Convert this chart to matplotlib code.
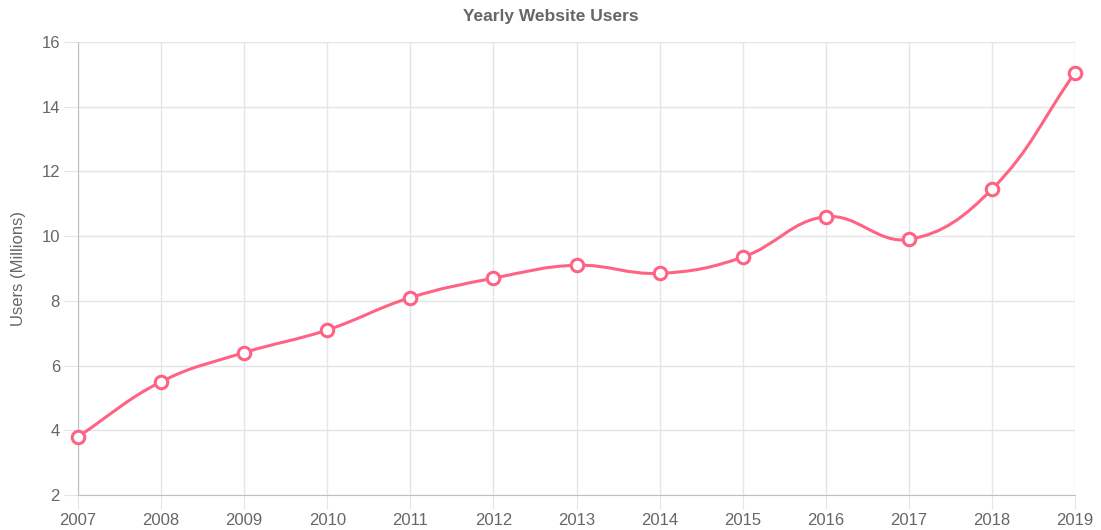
import numpy as np
import matplotlib
matplotlib.use("Agg")
import matplotlib.pyplot as plt
from matplotlib.path import Path
from matplotlib.patches import PathPatch

years = [2007, 2008, 2009, 2010, 2011, 2012, 2013, 2014, 2015, 2016, 2017, 2018, 2019]
users = [3.8, 5.5, 6.4, 7.1, 8.1, 8.7, 9.1, 8.85, 9.35, 10.6, 9.9, 11.45, 15.05]
y_ticks = [2, 4, 6, 8, 10, 12, 14, 16]

LINE = "#ff6384"
TEXT = "#666666"
FONT = ["Liberation Sans", "DejaVu Sans"]

W, H = 1101, 530
fig = plt.figure(figsize=(W / 100, H / 100), dpi=100)
left, right, top, bottom = 78, 1075, 42, 495
ax = fig.add_axes([left / W, 1 - bottom / H, (right - left) / W, (bottom - top) / H])
ax.set_xlim(years[0], years[-1])
ax.set_ylim(2, 16)

# Chart.js-like spline (tension 0.4) computed in display space
fig.canvas.draw()
pts = ax.transData.transform(np.column_stack([years, users]))
n = len(pts)
t = 0.4
cprev = np.zeros_like(pts)
cnext = np.zeros_like(pts)
for i in range(n):
    p0 = pts[i - 1] if i > 0 else pts[i]
    p1 = pts[i]
    p2 = pts[i + 1] if i < n - 1 else pts[i]
    d01 = np.hypot(*(p1 - p0))
    d12 = np.hypot(*(p2 - p1))
    tot = d01 + d12
    s01 = d01 / tot if tot else 0
    s12 = d12 / tot if tot else 0
    cprev[i] = p1 - t * s01 * (p2 - p0)
    cnext[i] = p1 + t * s12 * (p2 - p0)
verts = [pts[0]]
codes = [Path.MOVETO]
for i in range(n - 1):
    verts += [cnext[i], cprev[i + 1], pts[i + 1]]
    codes += [Path.CURVE4] * 3
inv = ax.transData.inverted()
path = Path(inv.transform(np.array(verts)), codes)
ax.add_patch(PathPatch(path, facecolor="none", edgecolor=LINE, lw=2.2, zorder=3,
                       capstyle="round", joinstyle="round"))
ax.plot(years, users, linestyle="none", marker="o", markersize=9,
        markerfacecolor="white", markeredgecolor=LINE, markeredgewidth=2.2,
        zorder=4, clip_on=False)

ax.set_xticks(years)
ax.set_xticklabels([str(y) for y in years])
ax.set_yticks(y_ticks)
ax.grid(True, color="#e5e5e5", lw=1)
ax.set_axisbelow(True)
for s in ["top", "right"]:
    ax.spines[s].set_visible(False)
ax.spines["left"].set_color("#bfbfbf")
ax.spines["bottom"].set_color("#bfbfbf")
ax.tick_params(axis="both", length=10, color="#e5e5e5", labelcolor=TEXT,
               labelsize=12, pad=3)
for lab in ax.get_xticklabels() + ax.get_yticklabels():
    lab.set_fontfamily(FONT)

fig.text(19 / W, 1 - 268 / H, "Users (Millions)", rotation=90, ha="center", va="center",
         color=TEXT, fontsize=12, family=FONT)
fig.text(0.5, 1 - 17 / H, "Yearly Website Users", ha="center",
         va="center", color=TEXT, fontsize=12.5, fontweight="bold", family=FONT)

fig.savefig("out.png", dpi=100)
